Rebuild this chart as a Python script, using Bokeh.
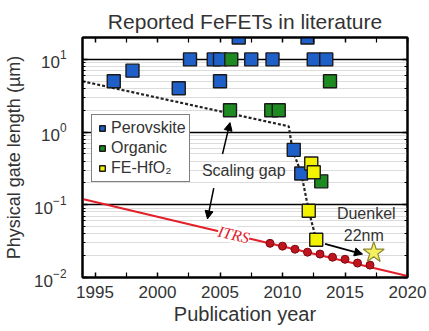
from bokeh.plotting import figure
from bokeh.models import (FixedTicker, LinearAxis, LogAxis, Legend, LegendItem,
                          Arrow, NormalHead, LogTickFormatter)
from bokeh.core.properties import value
from bokeh.embed import file_html
from bokeh.resources import INLINE

# --- data -------------------------------------------------------------
perovskite_year = [1996.5, 1998.0, 2001.7, 2002.6, 2004.5, 2005.0, 2005.0, 2006.5,
                   2007.5, 2009.2, 2012.0, 2012.5, 2013.5, 2010.9, 2011.5]
perovskite_len = [5, 7, 4, 10, 10, 10, 5, 20, 10, 10, 20, 10, 10, 0.57, 0.27]

organic_year = [2005.9, 2013.8, 2005.8, 2009.1, 2009.7, 2013.1]
organic_len = [10, 5, 2, 2, 2, 0.21]

hfo2_year = [2012.3, 2012.5, 2012.1, 2012.7]
hfo2_len = [0.37, 0.28, 0.083, 0.033]

duenkel_year = [2017.3]
duenkel_len = [0.022]

itrs_line_year = [1994, 2020]
itrs_line_len = [0.12, 0.0105]
itrs_node_year = [2009, 2010, 2011, 2012, 2013, 2014, 2015, 2016, 2017]
itrs_node_len = [0.0295, 0.027, 0.0245, 0.0223, 0.021, 0.019, 0.0178, 0.0158, 0.0148]

# trend of reported devices (dashed guide)
trend_year = [1994, 2010.5, 2010.8, 2011.5, 2012.1, 2012.7]
trend_len = [5.0, 1.2, 0.57, 0.27, 0.083, 0.033]

x_ticks = [1995, 2000, 2005, 2010, 2015, 2020]
x_minor = [1997.5, 2002.5, 2007.5, 2012.5, 2017.5]

FONT = "Liberation Sans"
TXT = "#333333"
BLUE = "#1f5fc8"
GREEN = "#1d8a22"
YELLOW = "#f2f200"
RED = "#e3202a"

p = figure(width=429, height=331, y_axis_type="log",
           x_range=(1994, 2020), y_range=(0.01, 20),
           output_backend="svg", toolbar_location=None,
           min_border_left=82, min_border_right=22,
           min_border_top=37, min_border_bottom=54,
           title="Reported FeFETs in literature")

p.title.align = "center"
p.title.offset = 9
p.title.text_font = FONT
p.title.text_font_size = "21px"
p.title.text_font_style = "normal"
p.title.text_color = TXT

p.outline_line_color = "black"
p.outline_line_width = 2
p.background_fill_color = "white"
p.border_fill_color = "white"

# grid: black decades, light minor lines
p.xgrid.grid_line_color = None
p.ygrid.grid_line_color = "black"
p.ygrid.grid_line_width = 1.6
p.ygrid.minor_grid_line_color = "#dcdcdc"
p.ygrid.minor_grid_line_width = 1


def style_axis(ax):
    ax.axis_line_color = "black"
    ax.axis_line_width = 2
    ax.major_tick_in = 5
    ax.major_tick_out = 0
    ax.minor_tick_in = 3
    ax.minor_tick_out = 0
    ax.major_tick_line_width = 1.5
    ax.minor_tick_line_width = 1.2
    ax.major_label_text_font = FONT
    ax.major_label_text_font_size = "17px"
    ax.major_label_text_color = TXT
    ax.axis_label_text_font = FONT
    ax.axis_label_text_font_style = "normal"
    ax.axis_label_text_color = TXT


def hide_labels(ax):
    ax.major_label_text_font_size = "1px"
    ax.major_label_text_alpha = 0
    ax.major_label_standoff = 0


xa = p.xaxis[0]
xa.ticker = FixedTicker(ticks=x_ticks, minor_ticks=x_minor)
style_axis(xa)
xa.minor_tick_in = 5
xa.major_label_standoff = 8
xa.axis_label = "Publication year"
xa.axis_label_text_font_size = "20px"
xa.axis_label_standoff = 2

ya = p.yaxis[0]
style_axis(ya)
ya.formatter = LogTickFormatter()
ya.major_label_standoff = 16
ya.axis_label = "Physical gate length (µm)"
ya.axis_label_text_font_size = "18px"
ya.axis_label_standoff = 7

top = LinearAxis(ticker=FixedTicker(ticks=x_ticks, minor_ticks=x_minor))
style_axis(top)
top.minor_tick_in = 5
hide_labels(top)
p.add_layout(top, "above")

right = LogAxis()
style_axis(right)
hide_labels(right)
p.add_layout(right, "right")

# ITRS roadmap
p.line(itrs_line_year, itrs_line_len, line_color=RED, line_width=2.2)
p.text(x=[2006.1], y=[0.039], text=["ITRS"], angle=-0.23,
       text_font=value("Liberation Serif"), text_font_style="italic",
       text_font_size="16px", text_color=RED,
       text_align="center", text_baseline="middle",
       background_fill_color="white")
p.scatter(itrs_node_year, itrs_node_len, marker="circle", size=8,
          fill_color="#c0141e", line_color="#7a0a10", line_width=1)

# dashed trend through reported devices
p.line(trend_year, trend_len, line_color="#222222", line_width=2.2,
       line_dash="3 2")

# device markers
r_per = p.scatter(perovskite_year, perovskite_len, marker="square", size=13,
                  fill_color=BLUE, line_color="#1a1a1a", line_width=1.4)
r_org = p.scatter(organic_year, organic_len, marker="square", size=13,
                  fill_color=GREEN, line_color="#1a1a1a", line_width=1.4)
r_hf = p.scatter(hfo2_year, hfo2_len, marker="square", size=13,
                 fill_color=YELLOW, line_color="#1a1a1a", line_width=1.4)
p.scatter(duenkel_year, duenkel_len, marker="star", size=22,
          fill_color="#f5f060", line_color="#8a8a30", line_width=1.2)

# annotations
head = dict(size=8, fill_color="black", line_color="black")
p.add_layout(Arrow(end=NormalHead(**head), x_start=2005.2, y_start=0.5,
                   x_end=2005.8, y_end=1.35, line_width=1.5))
p.add_layout(Arrow(end=NormalHead(**head), x_start=2004.5, y_start=0.17,
                   x_end=2004.0, y_end=0.064, line_width=1.5))
p.add_layout(Arrow(end=NormalHead(**head), x_start=2013.4, y_start=0.029,
                   x_end=2016.4, y_end=0.021, line_width=1.8))

p.text(x=[2006.9], y=[0.3], text=["Scaling gap"], text_font=value(FONT),
       text_font_size="16px", text_color=TXT, text_align="center",
       text_baseline="middle")
p.text(x=[2016.7], y=[0.075], text=["Duenkel"], text_font=value(FONT),
       text_font_size="16px", text_color=TXT, text_align="center",
       text_baseline="middle")
p.text(x=[2016.5], y=[0.038], text=["22nm"], text_font=value(FONT),
       text_font_size="16px", text_color=TXT, text_align="center",
       text_baseline="middle")

legend = Legend(items=[LegendItem(label="Perovskite", renderers=[r_per]),
                       LegendItem(label="Organic", renderers=[r_org]),
                       LegendItem(label="FE-HfO₂", renderers=[r_hf])],
                location=(9, 95))
legend.border_line_color = "black"
legend.border_line_width = 1.5
legend.background_fill_alpha = 1
legend.label_text_font = FONT
legend.label_text_font_size = "16px"
legend.label_text_color = TXT
legend.glyph_width = 14
legend.glyph_height = 20
legend.label_height = 20
legend.label_standoff = 2
legend.spacing = 0
legend.padding = 3
legend.margin = 0
p.add_layout(legend, "center")

open("out.html", "w").write(file_html(p, INLINE))
